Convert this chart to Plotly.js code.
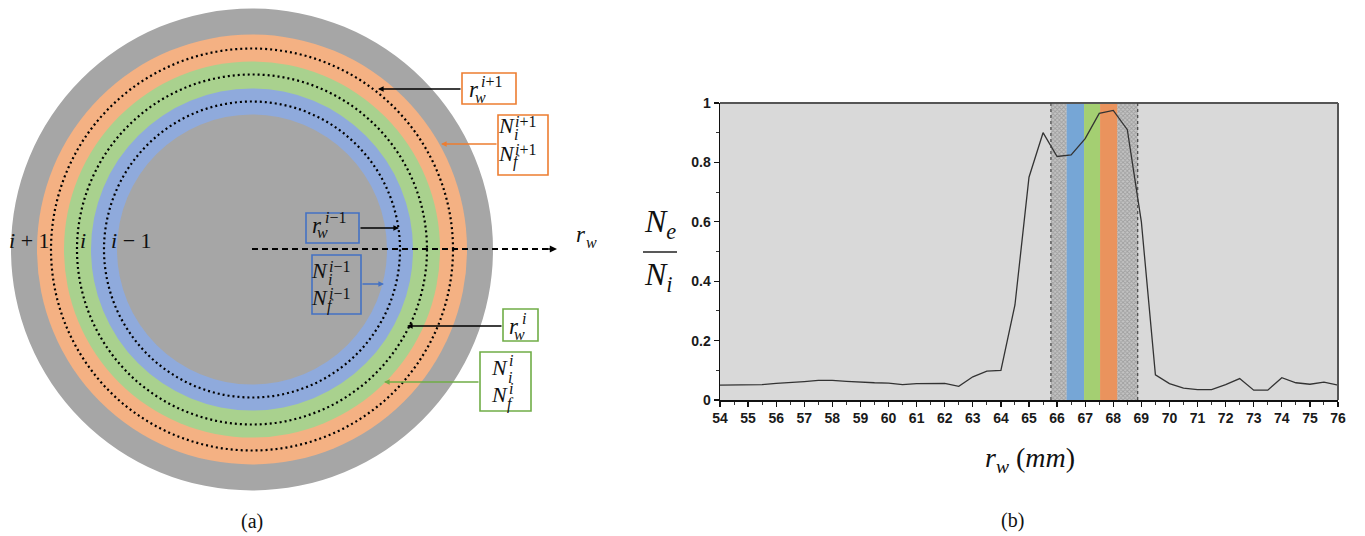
<!DOCTYPE html>
<html>
<head>
<meta charset="utf-8">
<script src="https://cdn.plot.ly/plotly-3.0.1.min.js"></script>
<style>
  html, body { margin: 0; padding: 0; background: #fff; }
  #fig { width: 1365px; height: 536px; }
</style>
</head>
<body>
<div id="fig"></div>
<script>
// (b) efficiency profile
var rw = [54, 54.5, 55, 55.5, 56, 56.5, 57, 57.5, 58, 58.5, 59, 59.5, 60, 60.5, 61, 61.5,
          62, 62.5, 63, 63.5, 64, 64.5, 65, 65.5, 66, 66.5, 67, 67.5, 68, 68.5, 69, 69.5,
          70, 70.5, 71, 71.5, 72, 72.5, 73, 73.5, 74, 74.5, 75, 75.5, 76];
var ratio = [0.05, 0.05, 0.05, 0.052, 0.056, 0.058, 0.062, 0.066, 0.066, 0.063, 0.06, 0.058,
             0.057, 0.052, 0.055, 0.056, 0.056, 0.046, 0.078, 0.097, 0.1, 0.32, 0.75, 0.9,
             0.82, 0.825, 0.88, 0.965, 0.975, 0.91, 0.6, 0.085, 0.055, 0.04, 0.035, 0.035,
             0.052, 0.072, 0.033, 0.033, 0.075, 0.058, 0.053, 0.06, 0.05];

// highlighted layers (mm)
var bandEdges = [65.78, 66.34, 66.96, 67.53, 68.14, 68.87];
var bandColors = ['#c4c4c4', '#76a6d6', '#a4cf72', '#ea935d', '#c4c4c4'];
var bandHatched = [true, false, false, false, true];

// (a) ring diagram, radii in px
var ringRadii = [241, 215, 188, 161, 135];
var ringColors = ['#a6a6a6', '#f4b183', '#a9d18e', '#8faadc', '#a6a6a6'];
var wallRadii = [201, 175, 148];
var cx = 252, cy = 249.5;

var serif = 'Liberation Serif, Times New Roman, serif';

var shapes = [];
var annotations = [];

ringRadii.forEach(function(r, k) {
    shapes.push({type: 'circle', xref: 'x', yref: 'y', x0: cx - r, x1: cx + r, y0: cy - r, y1: cy + r,
                 fillcolor: ringColors[k], line: {width: 0}});
});
wallRadii.forEach(function(r) {
    shapes.push({type: 'circle', xref: 'x', yref: 'y', x0: cx - r, x1: cx + r, y0: cy - r, y1: cy + r,
                 line: {color: '#000', width: 2.2, dash: '2px,3px'}});
});

// radial direction
shapes.push({type: 'line', xref: 'x', yref: 'y', x0: cx, x1: 548, y0: 249, y1: 249,
             line: {color: '#000', width: 2, dash: '6px,4px'}});
annotations.push({x: 557, y: 249, ax: 544, ay: 249, xref: 'x', yref: 'y', axref: 'x', ayref: 'y',
                  text: '', showarrow: true, arrowhead: 2, arrowsize: 0.9, arrowwidth: 1.6, arrowcolor: '#000'});

// label boxes
function box(x0, y0, x1, y1, col, fill) {
    shapes.push({type: 'rect', xref: 'x', yref: 'y', x0: x0, x1: x1, y0: y0, y1: y1,
                 fillcolor: fill, line: {color: col, width: 1.6}});
}
box(462, 73, 516, 104, '#ed7d31', '#fff');
box(498, 115, 548, 175, '#ed7d31', '#fff');
box(306, 213, 359, 243, '#4472c4', 'rgba(0,0,0,0)');
box(312, 255, 361, 314, '#4472c4', 'rgba(0,0,0,0)');
box(503, 309, 538, 341, '#70ad47', '#fff');
box(480, 352, 531, 411, '#70ad47', '#fff');

function arrow(tx, ty, fx, fy, col) {
    annotations.push({x: tx, y: ty, ax: fx, ay: fy, xref: 'x', yref: 'y', axref: 'x', ayref: 'y',
                      text: '', showarrow: true, arrowhead: 2, arrowsize: 0.7, arrowwidth: 1.6, arrowcolor: col});
}
arrow(378, 89, 462, 89, '#000');
arrow(441, 144, 498, 144, '#ed7d31');
arrow(399, 228, 359, 228, '#000');
arrow(384, 284, 361, 284, '#4472c4');
arrow(407, 326, 503, 326, '#000');
arrow(384, 382, 480, 382, '#70ad47');

function txt(x, y, s, size, anchor) {
    annotations.push({x: x, y: y, xref: 'x', yref: 'y', text: s, showarrow: false,
                      xanchor: anchor || 'center', yanchor: 'middle',
                      font: {family: serif, size: size, color: '#111'}});
}
// base letter with stacked super/subscript
function sym(bx, by, base, supx, supy, sup, subx, suby, sub, size) {
    txt(bx, by, '<i>' + base + '</i>', size);
    if (sup) txt(supx, supy, sup, 16, 'left');
    txt(subx, suby, '<i>' + sub + '</i>', 16, 'left');
}
var ip1 = '<i>i</i>+1', im1 = '<i>i</i>−1', ii = '<i>i</i>';
sym(474, 89, 'r', 479, 81, ip1, 473, 97, 'w', 23);
sym(506, 125, 'N', 513, 121, ip1, 512, 134, 'i', 22);
sym(506, 153, 'N', 513, 149, ip1, 511, 162, 'f', 22);
sym(317, 225, 'r', 323, 217, im1, 315, 232, 'w', 23);
sym(319, 270, 'N', 327, 266, im1, 326, 279, 'i', 22);
sym(319, 297, 'N', 327, 293, im1, 325, 306, 'f', 22);
sym(514, 326, 'r', 520, 318, ii, 512, 334, 'w', 23);
sym(499, 367, 'N', 507, 360, ii, 506, 377, 'i', 22);
sym(499, 394, 'N', 507, 388, ii, 505, 404, 'f', 22);
sym(581, 234, 'r', 0, 0, '', 584, 242, 'w', 23);

txt(29, 240, '<i>i</i> + 1', 22);
txt(83, 240, '<i>i</i>', 22);
txt(131, 240, '<i>i</i> − 1', 22);

txt(252, 521, '(a)', 20);
txt(1012, 520, '(b)', 20);

// y title as a fraction, x title
txt(660, 223, '<i>N</i><sub><i>e</i></sub>', 32);
txt(658, 276, '<i>N</i><sub><i>i</i></sub>', 32);
shapes.push({type: 'line', xref: 'x', yref: 'y', x0: 643, x1: 677, y0: 252, y1: 252,
             line: {color: '#222', width: 1.4}});
txt(1030, 459, '<i>r</i><sub><i>w</i></sub> (<i>mm</i>)', 28);

// (b) plot area background and frame
shapes.push({type: 'rect', xref: 'x2 domain', yref: 'y2 domain', x0: 0, x1: 1, y0: 0, y1: 1,
             fillcolor: '#d9d9d9', line: {width: 0}, layer: 'below'});
shapes.push({type: 'line', xref: 'x2 domain', yref: 'y2 domain', x0: 0, x1: 1, y0: 1, y1: 1,
             line: {color: '#555', width: 2}});
shapes.push({type: 'line', xref: 'x2 domain', yref: 'y2 domain', x0: 1, x1: 1, y0: 0, y1: 1,
             line: {color: '#555', width: 2}});
[bandEdges[0], bandEdges[bandEdges.length - 1]].forEach(function(e) {
    shapes.push({type: 'line', xref: 'x2', yref: 'y2 domain', x0: e, x1: e, y0: 0, y1: 1,
                 line: {color: '#444', width: 1.2, dash: 'dot'}});
});

var hx = [], hw = [], sx = [], sw = [], sc = [];
for (var k = 0; k < bandColors.length; k++) {
    var mid = (bandEdges[k] + bandEdges[k + 1]) / 2;
    var w = bandEdges[k + 1] - bandEdges[k];
    if (bandHatched[k]) { hx.push(mid); hw.push(w); }
    else { sx.push(mid); sw.push(w); sc.push(bandColors[k]); }
}

var hatch = {
    x: hx, y: hx.map(function() { return 1; }), width: hw, type: 'bar', xaxis: 'x2', yaxis: 'y2',
    marker: {color: bandColors[0], line: {width: 0},
             pattern: {shape: 'x', size: 3, solidity: 0.5, fgcolor: '#7a7a7a', bgcolor: bandColors[0], fillmode: 'overlay'}},
    hoverinfo: 'skip'
};
var solid = {
    x: sx, y: sx.map(function() { return 1; }), width: sw, type: 'bar', xaxis: 'x2', yaxis: 'y2',
    marker: {color: sc, line: {width: 0}}, hoverinfo: 'skip'
};
var profile = {
    x: rw, y: ratio, mode: 'lines', type: 'scatter', xaxis: 'x2', yaxis: 'y2',
    line: {color: '#333', width: 1.3}, hoverinfo: 'skip'
};

var tickFont = {family: 'Liberation Sans Narrow, Liberation Sans, Arial, sans-serif', size: 14, color: '#1a1a1a', weight: 'bold'};

var layout = {
    width: 1365, height: 536,
    margin: {l: 0, r: 0, t: 0, b: 0},
    paper_bgcolor: '#fff', plot_bgcolor: 'rgba(0,0,0,0)',
    showlegend: false, barmode: 'overlay',
    font: {family: serif},
    xaxis: {domain: [0, 1], range: [0, 1365], visible: false, fixedrange: true},
    yaxis: {domain: [0, 1], range: [536, 0], visible: false, fixedrange: true},
    xaxis2: {
        domain: [720 / 1365, 1338 / 1365], range: [54, 76], anchor: 'y2',
        tick0: 54, dtick: 1, ticks: 'outside', ticklen: 5, tickwidth: 1.2, tickcolor: '#111',
        showline: true, linecolor: '#111', linewidth: 1.5, showgrid: false, zeroline: false,
        tickfont: tickFont,
        minor: {dtick: 0.5, ticks: 'outside', ticklen: 3, tickcolor: '#333', tickwidth: 1}
    },
    yaxis2: {
        domain: [136 / 536, 433 / 536], range: [0, 1], anchor: 'x2',
        tick0: 0, dtick: 0.2, ticks: 'outside', ticklen: 5, tickwidth: 1.2, tickcolor: '#111',
        showline: true, linecolor: '#111', linewidth: 1.5, showgrid: false, zeroline: false,
        tickfont: tickFont,
        minor: {dtick: 0.1, ticks: 'outside', ticklen: 3, tickcolor: '#333', tickwidth: 1}
    },
    shapes: shapes,
    annotations: annotations
};

Plotly.newPlot('fig', [hatch, solid, profile], layout, {staticPlot: true, displayModeBar: false});
</script>
</body>
</html>
